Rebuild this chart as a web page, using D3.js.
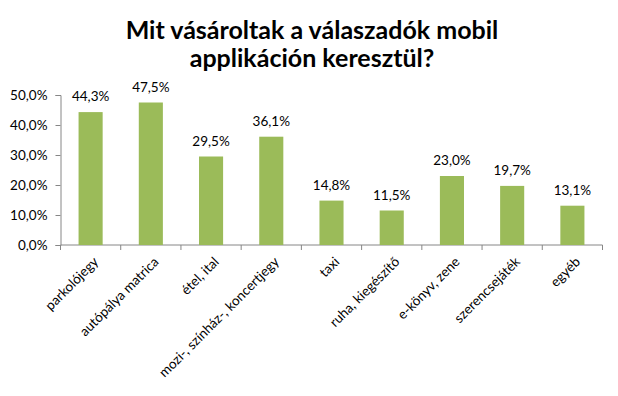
<!DOCTYPE html>
<html><head><meta charset="utf-8">
<script src="https://cdn.jsdelivr.net/npm/d3@7"></script>
<style>body{margin:0;background:#fff}svg{display:block}</style>
</head><body>
<svg id="c" width="618" height="396"></svg>
<script>
const categories = ["parkolójegy","autópálya matrica","étel, ital","mozi-, színház-, koncertjegy","taxi","ruha, kiegészítő","e-könyv, zene","szerencsejáték","egyéb"];
const values = [44.3,47.5,29.5,36.1,14.8,11.5,23.0,19.7,13.1];
const yTicks = [0,10,20,30,40,50];
const titleLines = ["Mit vásároltak a válaszadók mobil","applikáción keresztül?"];

(function(){
const font = "Lato, 'Open Sans', sans-serif";
const svg = d3.select("#c");
const pl = 60.5, pr = 602.5, pt = 95, pb = 245;
const x = d3.scaleBand().domain(categories).range([pl, pr]).paddingInner(0.6).paddingOuter(0.3);
const xb = d3.scaleBand().domain(categories).range([pl, pr]);
const y = d3.scaleLinear().domain([0,50]).range([pb, pt]);
const fmt = v => v.toFixed(1).replace(".", ",") + "%";

svg.selectAll("text.title").data(titleLines).join("text").attr("class","title")
  .attr("x", 312).attr("y", (d,i) => 38.5 + i*28.5)
  .attr("text-anchor","middle").attr("font-family", font).attr("font-weight","bold")
  .attr("font-size", 25).attr("fill","#000").text(d => d);

const gy = svg.append("g").attr("transform", `translate(${pl},0)`)
  .call(d3.axisLeft(y).tickValues(yTicks).tickSize(5).tickPadding(8).tickFormat(fmt));
gy.select(".domain").attr("stroke","#868686");
gy.selectAll(".tick line").attr("stroke","#868686");
gy.selectAll(".tick text").attr("font-family", font).attr("font-size", 13.5).attr("fill","#000");

const gx = svg.append("g").attr("transform", `translate(0,${pb})`);
gx.append("line").attr("x1", pl).attr("x2", pr).attr("stroke","#868686");
gx.selectAll("line.tk").data(d3.range(categories.length+1)).join("line").attr("class","tk")
  .attr("x1", i => pl + i*xb.bandwidth()).attr("x2", i => pl + i*xb.bandwidth())
  .attr("y1", 0).attr("y2", 5).attr("stroke","#868686");
gx.selectAll("text.xl").data(categories).join("text").attr("class","xl")
  .attr("transform", d => `translate(${xb(d)+xb.bandwidth()/2+2},${11}) rotate(-45)`)
  .attr("text-anchor","end").attr("dy","0.7em")
  .attr("font-family", font).attr("font-size", 13.5).attr("fill","#000").text(d => d);

svg.selectAll("rect.bar").data(values).join("rect").attr("class","bar")
  .attr("x", (d,i) => x(categories[i])).attr("width", x.bandwidth())
  .attr("y", d => y(d)).attr("height", d => pb - y(d)).attr("fill","#9BBB59");

svg.selectAll("text.lbl").data(values).join("text").attr("class","lbl")
  .attr("x", (d,i) => x(categories[i]) + x.bandwidth()/2).attr("y", d => y(d) - 11)
  .attr("text-anchor","middle").attr("font-family", font).attr("font-size", 13.5)
  .attr("fill","#000").text(fmt);
})();
</script>
</body></html>
